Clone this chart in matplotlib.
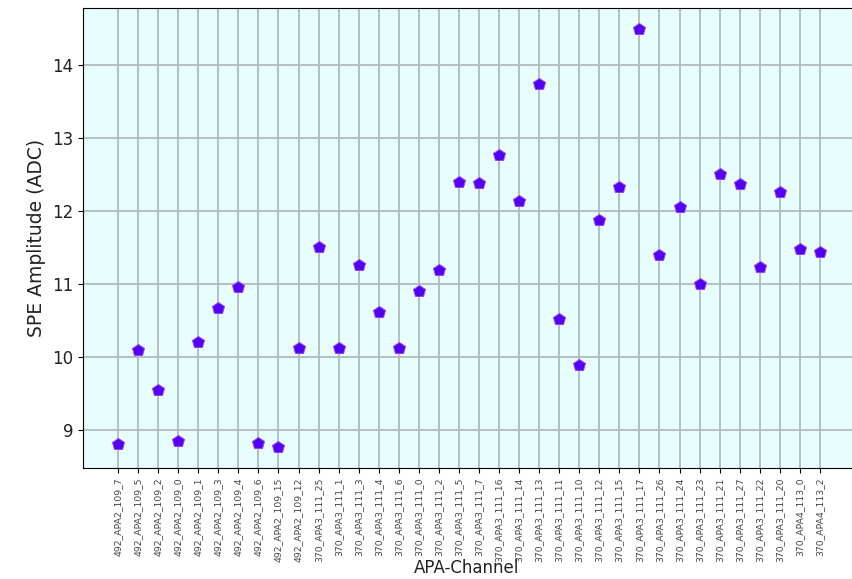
import matplotlib
matplotlib.use("Agg")
import matplotlib.pyplot as plt

# APA-channel labels (x axis)
channels = [
    "492_APA2_109_7", "492_APA2_109_5", "492_APA2_109_2", "492_APA2_109_0",
    "492_APA2_109_1", "492_APA2_109_3", "492_APA2_109_4", "492_APA2_109_6",
    "492_APA2_109_15", "492_APA2_109_12", "370_APA3_111_25", "370_APA3_111_1",
    "370_APA3_111_3", "370_APA3_111_4", "370_APA3_111_6", "370_APA3_111_0",
    "370_APA3_111_2", "370_APA3_111_5", "370_APA3_111_7", "370_APA3_111_16",
    "370_APA3_111_14", "370_APA3_111_13", "370_APA3_111_11", "370_APA3_111_10",
    "370_APA3_111_12", "370_APA3_111_15", "370_APA3_111_17", "370_APA3_111_26",
    "370_APA3_111_24", "370_APA3_111_23", "370_APA3_111_21", "370_APA3_111_27",
    "370_APA3_111_22", "370_APA3_111_20", "370_APA4_113_0", "370_APA4_113_2",
]

# SPE amplitude per channel (ADC)
spe_amplitude = [
    8.81, 10.10, 9.55, 8.86, 10.21, 10.67, 10.97, 8.82, 8.77, 10.13,
    11.51, 10.13, 11.26, 10.62, 10.13, 10.91, 11.20, 12.41, 12.39, 12.77,
    12.14, 13.75, 10.52, 9.89, 11.88, 12.34, 14.50, 11.40, 12.06, 11.00,
    12.51, 12.37, 11.24, 12.27, 11.49, 11.45,
]

fig = plt.figure(figsize=(8.53, 5.79), dpi=100)
ax = fig.add_axes([0.0973, 0.1917, 0.905, 0.7943])
ax.set_facecolor("#e8fdfd")

ax.plot(channels, spe_amplitude, linestyle="none", marker="p", markersize=9,
        markerfacecolor="#5200f0", markeredgecolor="#9a3cff", markeredgewidth=0.7,
        zorder=3)

ax.grid(True, color="#b0baba", linewidth=1.3, zorder=1)
ax.set_axisbelow(True)

ax.set_xlabel("APA-Channel", fontsize=12, color="#222222")
ax.xaxis.set_label_coords(0.497, -0.198)
ax.set_ylabel("SPE Amplitude (ADC)", fontsize=13.5, color="#222222")
ax.tick_params(axis="x", labelrotation=90, labelsize=6.7, labelcolor="#444444")
ax.tick_params(axis="y", labelsize=12, labelcolor="#222222")
ax.set_yticks([9, 10, 11, 12, 13, 14])

plt.savefig("out.png", dpi=100)
